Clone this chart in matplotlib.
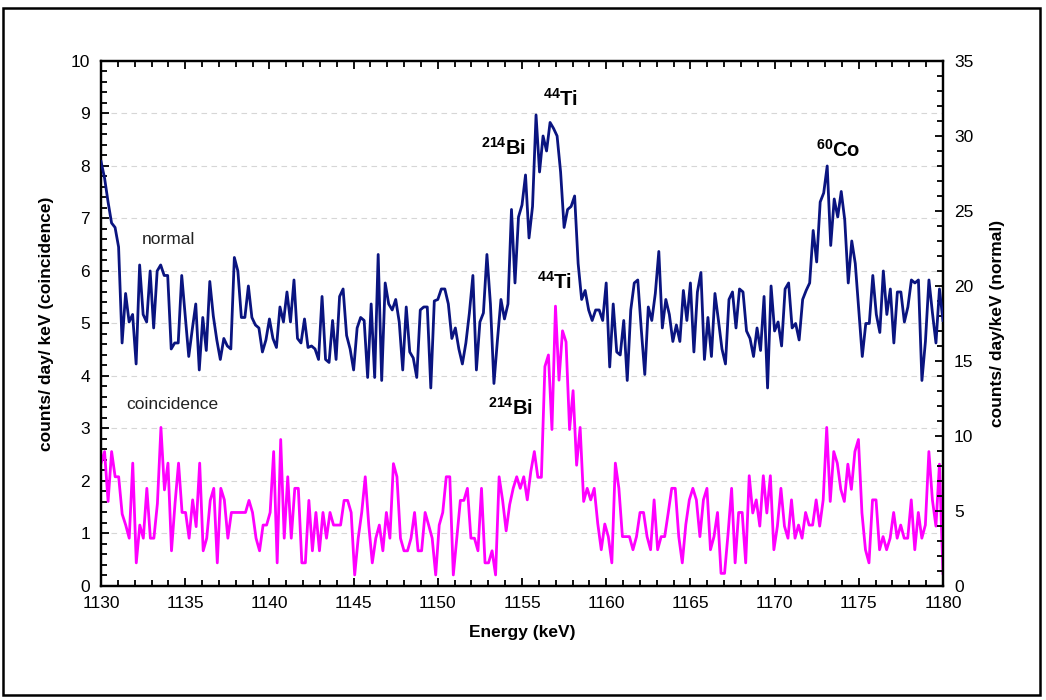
import numpy as np
import matplotlib.pyplot as plt
from matplotlib.patches import Rectangle
from matplotlib.ticker import MultipleLocator

plt.rcParams['font.family'] = ['Liberation Sans', 'DejaVu Sans']
plt.rcParams['mathtext.fontset'] = 'custom'
plt.rcParams['mathtext.rm'] = 'Liberation Sans'
plt.rcParams['mathtext.bf'] = 'Liberation Sans:bold'

# spectrum, normal mode (counts/day/keV, right axis)
normal = [
    28.3, 27.2, 25.6, 24.2, 23.9, 22.6, 16.2, 19.5, 17.6, 18.1, 14.8, 21.4, 18.1, 17.6, 21.0,
    17.2, 21.0, 21.4, 20.7, 20.7, 15.8, 16.2, 16.2, 20.7, 18.0, 15.3, 17.1, 18.8, 14.4, 17.9,
    15.7, 20.3, 18.0, 16.4, 15.1, 16.5, 16.0, 15.8, 21.9, 21.0, 17.9, 17.9, 20.0, 17.9, 17.4,
    17.2, 15.6, 16.4, 17.8, 16.5, 15.9, 18.6, 17.6, 19.6, 17.6, 20.4, 16.5, 16.2, 17.8, 15.9,
    16.0, 15.8, 15.1, 19.3, 15.1, 14.9, 17.7, 15.1, 19.3, 19.8, 16.7, 15.8, 14.4, 17.2, 17.9,
    17.7, 13.9, 18.8, 13.9, 22.1, 13.7, 20.2, 18.8, 18.4, 19.1, 17.6, 14.4, 18.6, 15.6, 15.2,
    13.9, 18.4, 18.6, 18.6, 13.2, 19.0, 19.1, 19.8, 19.8, 18.8, 16.5, 17.2, 15.8, 14.8, 16.2,
    18.2, 20.7, 14.4, 17.6, 18.2, 22.1, 18.8, 13.5, 16.4, 19.1, 17.8, 18.8, 25.1, 20.2,
    24.6, 25.4, 27.4, 23.2, 25.3, 31.4, 27.6, 30.0, 29.0, 30.9, 30.5, 30.0, 27.6, 23.9, 25.1,
    25.3, 26.0, 21.5, 19.1, 19.7, 18.4, 17.7, 18.4, 18.4, 17.7, 20.2, 14.6, 18.8, 15.6, 15.4,
    17.7, 13.7, 18.4, 20.2, 20.4, 17.1, 14.1, 18.6, 17.7, 19.5, 22.3, 17.2, 19.1, 18.1, 16.3,
    17.4, 16.3, 19.7, 17.7, 20.2, 15.6, 19.6, 20.9, 15.1, 17.9, 15.3, 19.5,
    17.7, 15.8, 14.8, 19.1, 19.6, 17.2, 19.8, 19.6, 17.0, 16.5, 15.3, 17.2, 15.7, 19.3, 13.2,
    20.0, 17.0, 17.6, 16.0, 19.8, 20.2, 17.2, 17.5, 16.4, 19.1, 19.7, 20.2, 23.7, 21.6, 25.6,
    26.2, 28.0, 22.7, 25.8, 24.6, 26.3, 24.4, 20.2, 23.0, 21.5, 18.4, 15.3, 17.5, 17.5, 20.7,
    18.1, 16.9, 21.0, 18.1, 19.8, 16.2, 19.6, 19.6, 17.6, 18.6, 20.4, 20.2, 20.4, 13.7, 16.3,
    20.4, 18.2, 16.2, 19.8, 17.7,
]

# spectrum, coincidence mode (counts/day/keV, left axis)
coincidence = [
    2.34, 2.56, 1.61, 2.56, 2.08, 2.08, 1.37, 1.16, 0.91, 2.34, 0.44, 1.16, 0.91, 1.86, 0.91,
    0.91, 1.57, 3.02, 1.83, 2.34, 0.67, 1.57, 2.34, 1.40, 1.40, 0.91, 1.64, 1.13, 2.34, 0.67,
    0.91, 1.63, 1.86, 0.44, 1.86, 1.64, 0.91, 1.40, 1.40, 1.40, 1.40, 1.40, 1.63, 1.40, 0.91,
    0.67, 1.16, 1.16, 1.40, 2.56, 0.44, 2.79, 0.91, 2.08, 0.91, 1.86, 1.86, 0.44, 0.44, 1.63,
    0.67, 1.40, 0.67, 1.40, 0.91, 1.40, 1.16, 1.16, 1.16, 1.63, 1.63, 1.40, 0.21, 0.91, 1.40,
    2.08, 1.16, 0.44, 0.91, 1.16, 0.67, 1.40, 0.91, 2.33, 2.08, 0.91, 0.67, 0.67, 0.91, 1.40,
    0.67, 0.67, 1.40, 1.16, 0.91, 0.21, 1.16, 1.40, 2.08, 2.08, 0.21, 0.91, 1.63, 1.63, 1.86,
    0.91, 0.91, 0.67, 1.86, 0.44, 0.44, 0.67, 0.21, 2.08, 1.63, 1.05, 1.55, 1.86, 2.08,
    1.86, 2.08, 1.64, 2.18, 2.56, 2.07, 2.07, 4.18, 4.40, 2.98, 5.33, 3.92, 4.86, 4.65, 2.98,
    3.72, 2.30, 3.02, 1.61, 1.86, 1.64, 1.86, 1.19, 0.69, 1.18, 0.94, 0.44, 2.34, 1.86, 0.94,
    0.94, 0.94, 0.69, 0.94, 1.40, 1.40, 0.94, 0.69, 1.64, 0.69, 0.94, 0.94, 1.39, 1.86, 1.86,
    0.94, 0.44, 1.17, 1.64, 1.86, 1.64, 0.94, 1.64, 1.86, 0.69, 0.94, 1.40,
    0.24, 0.24, 1.00, 1.86, 0.44, 1.40, 1.40, 0.44, 2.10, 1.39, 1.64, 1.14, 2.10, 1.39, 2.10,
    0.69, 1.14, 1.86, 1.14, 0.91, 1.64, 0.91, 1.16, 0.91, 1.40, 1.16, 1.16, 1.64, 1.14, 1.64,
    3.02, 1.61, 2.56, 2.34, 1.84, 1.61, 2.32, 1.84, 2.56, 2.79, 1.39, 0.69, 0.44, 1.64, 1.64,
    0.69, 0.94, 0.69, 0.91, 1.40, 0.91, 1.16, 0.91, 0.91, 1.64, 0.69, 1.40, 0.91, 1.16, 2.56,
    1.64, 1.14, 2.32, 0.24,
]

# energy channels span the full window
e_norm = np.linspace(1130, 1180, len(normal))
e_coin = np.linspace(1130, 1180, len(coincidence))

fig = plt.figure(figsize=(10.46, 7.0), dpi=100)
ax = fig.add_axes([0.0966, 0.1629, 0.8049, 0.75])
ax2 = ax.twinx()

ax.plot(e_coin, coincidence, color='#ff00ff', lw=2.0, zorder=3)
ax2.plot(e_norm, normal, color='#0a1480', lw=2.0, zorder=3)

ax.set_xlim(1130, 1180)
ax.set_ylim(0, 10)
ax2.set_ylim(0, 35)

ax.xaxis.set_major_locator(MultipleLocator(5))
ax.xaxis.set_minor_locator(MultipleLocator(1))
ax.yaxis.set_major_locator(MultipleLocator(1))
ax.yaxis.set_minor_locator(MultipleLocator(0.2))
ax2.yaxis.set_major_locator(MultipleLocator(5))
ax2.yaxis.set_minor_locator(MultipleLocator(1))

ax.grid(axis='y', which='major', ls=(0, (5, 4)), color='#d6d6d6', lw=0.8)
ax.set_axisbelow(True)

ax.tick_params(axis='x', which='both', direction='in', top=True, labelsize=12.5, pad=7, width=1.3)
ax.tick_params(axis='y', which='both', direction='in', right=False, labelsize=12.5, pad=8, width=1.3)
ax.tick_params(which='major', length=6)
ax.tick_params(which='minor', length=4)
ax2.tick_params(axis='y', which='both', direction='in', labelsize=12.5, pad=8, width=1.3)
ax2.tick_params(which='major', length=6)
ax2.tick_params(which='minor', length=4)

for a in (ax, ax2):
    for s in a.spines.values():
        s.set_linewidth(1.6)

ax.set_xlabel('Energy (keV)', fontsize=12.5, fontweight='bold', labelpad=10)
ax.set_ylabel('counts/ day/ keV (coincidence)', fontsize=12.5, fontweight='bold', labelpad=12)
ax2.set_ylabel('counts/ day/keV (normal)', fontsize=12.5, fontweight='bold', labelpad=12)

# series names
ax.text(1132.4, 6.59, 'normal', fontsize=12.5, color='#222222', va='center')
ax.text(1131.5, 3.45, 'coincidence', fontsize=12.5, color='#222222', va='center')

# peak labels
peaks = [
    (1153.9, 8.34, r'$^{\mathbf{214}}\mathbf{Bi}$'),
    (1157.3, 9.28, r'$^{\mathbf{44}}\mathbf{Ti}$'),
    (1173.8, 8.30, r'$^{\mathbf{60}}\mathbf{Co}$'),
    (1156.9, 5.79, r'$^{\mathbf{44}}\mathbf{Ti}$'),
    (1154.3, 3.39, r'$^{\mathbf{214}}\mathbf{Bi}$'),
]
for px, py, lab in peaks:
    ax.text(px, py, lab, fontsize=14.5, ha='center', va='center', color='#000000', zorder=5)

# frame around the whole picture
fig.patches.append(Rectangle((0.003, 0.007), 0.991, 0.982, transform=fig.transFigure,
                             fill=False, edgecolor='black', lw=1.8))

fig.savefig('out.png', dpi=100)
